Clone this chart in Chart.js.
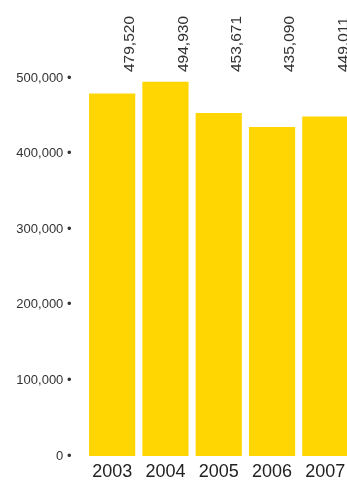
<!DOCTYPE html>
<html>
<head>
<meta charset="utf-8">
<script src="https://cdn.jsdelivr.net/npm/chart.js@4"></script>
<style>
  html, body { margin: 0; padding: 0; background: #fff; overflow: hidden; }
  #wrap { position: relative; width: 352px; height: 480px; }
</style>
</head>
<body>
<div id="wrap"><canvas id="chart"></canvas></div>
<script>
const YEARS  = [ '2003', '2004', '2005', '2006', '2007' ];
const VALUES = [ 479520, 494930, 453671, 435090, 449011 ];
const Y_TICKS = [ 0, 100000, 200000, 300000, 400000, 500000 ];

const FONT = '"Liberation Sans", Arial, sans-serif';
const fmt = ( v ) => v.toLocaleString( 'en-US' );

// rotated value labels above the plot area
const valueLabels = {
    id: 'valueLabels',
    afterDatasetsDraw( chart ) {
        const { ctx, chartArea } = chart;
        const meta = chart.getDatasetMeta( 0 );
        ctx.save();
        ctx.font = '15.5px ' + FONT;
        ctx.fillStyle = '#333';
        ctx.textAlign = 'left';
        ctx.textBaseline = 'middle';
        meta.data.forEach( ( bar, i ) => {
            ctx.save();
            ctx.translate( bar.x + 18, chartArea.top - 6 );
            ctx.rotate( -Math.PI / 2 );
            ctx.fillText( fmt( VALUES[ i ] ), 0, 0 );
            ctx.restore();
        } );
        ctx.restore();
    },
};

new Chart( document.getElementById( 'chart' ), {
    type: 'bar',
    data: {
        labels: YEARS,
        datasets: [ {
            data: VALUES,
            backgroundColor: '#FFD502',
            barPercentage: 0.867,
            categoryPercentage: 1,
        } ],
    },
    options: {
        responsive: true,
        maintainAspectRatio: false,
        animation: false,
        layout: { padding: { top: 78, left: 0, right: 0, bottom: 0 } },
        plugins: { legend: { display: false }, tooltip: { enabled: false } },
        scales: {
            x: {
                grid: { display: false },
                border: { display: false },
                afterFit: ( axis ) => { axis.height = 24; },
                ticks: { color: '#222', font: { family: FONT, size: 18, lineHeight: 1 }, padding: -1 },
            },
            y: {
                min: 0,
                max: 500000,
                afterBuildTicks: ( axis ) => { axis.ticks = Y_TICKS.map( ( v ) => ( { value: v } ) ); },
                grid: { display: false },
                border: { display: false },
                afterFit: ( axis ) => { axis.width = 85.5; },
                ticks: {
                    color: '#333',
                    font: { family: FONT, size: 13 },
                    padding: 6,
                    callback: ( v ) => fmt( v ) + ' \u2022',
                },
            },
        },
    },
    plugins: [ valueLabels ],
} );
</script>
</body>
</html>
